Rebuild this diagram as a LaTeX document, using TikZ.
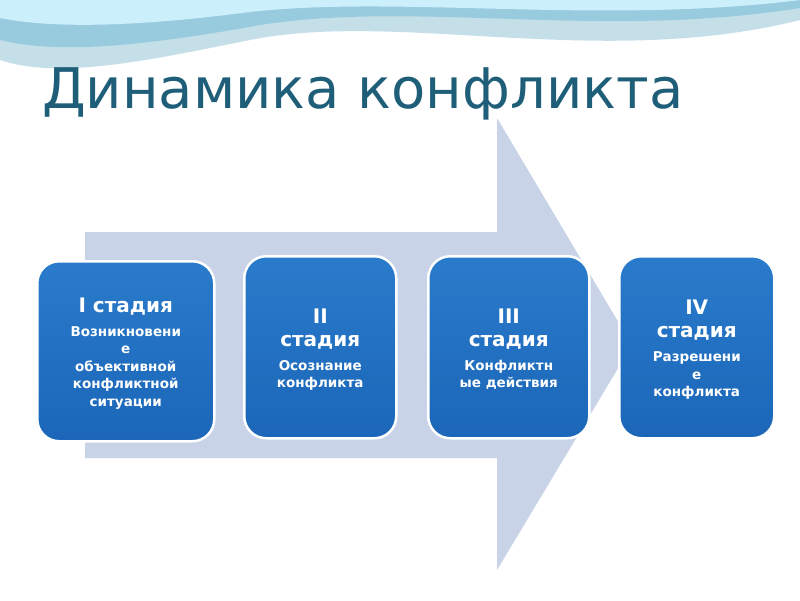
\documentclass[tikz,border=0pt]{standalone}
\usepackage{fontspec}
\setmainfont{DejaVu Sans}
\newcommand{\stgbig}[1]{{\fontsize{20}{24}\selectfont\bfseries\rule{0pt}{20pt}#1}}
\newcommand{\stgsml}[1]{{\fontsize{13.5}{16}\selectfont\bfseries\rule{0pt}{14pt}#1}}
\begin{document}
\begin{tikzpicture}[x=1pt,y=-1pt,
  stage/.style={draw=white,line width=2.5pt,rounded corners=22pt,
    top color=bluetop,bottom color=bluebox,anchor=north west},
  lbl/.style={text=white,align=center,inner sep=0}]
\definecolor{bluebox}{HTML}{1B66B8}
\definecolor{bluetop}{HTML}{2A7BCB}
\definecolor{titlec}{HTML}{1F5E78}
\definecolor{arrowc}{HTML}{C8D3E8}
\useasboundingbox (0,0) rectangle (800,600);
\fill[white] (0,0) rectangle (800,600);
% waves
\fill[cyan!30!teal!25] (0,0) -- (800,0) -- (800,20) .. controls (600,70) and (400,10) .. (250,40) .. controls (150,60) and (60,80) .. (0,60) -- cycle;
\fill[cyan!45!teal!45] (0,0) -- (800,0) -- (800,8) .. controls (600,40) and (420,0) .. (260,25) .. controls (150,45) and (60,55) .. (0,40) -- cycle;
\fill[cyan!20!white] (0,0) -- (800,0) .. controls (600,25) and (400,-5) .. (250,12) .. controls (150,25) and (60,30) .. (0,18) -- cycle;
\node[text=titlec,anchor=base west,font=\fontsize{56}{64}\selectfont,inner sep=0] (title) at (42,108) {Динамика конфликта};
% arrow
\fill[arrowc] (85,232) -- (497,232) -- (497,118) -- (632,345) -- (497,570) -- (497,458) -- (85,458) -- cycle;
\node[stage,minimum width=177pt,minimum height=180pt] (s1) at (36,260) {};
\node[lbl] at (s1.center) {\begin{tabular}{@{}c@{}}\stgbig{I стадия}\\[6pt]
\stgsml{Возникновени}\\\stgsml{е}\\\stgsml{объективной}\\\stgsml{конфликтной}\\\stgsml{ситуации}\end{tabular}};
\node[stage,minimum width=152pt,minimum height=182pt] (s2) at (243,255) {};
\node[lbl] at (s2.center) {\begin{tabular}{@{}c@{}}\stgbig{II}\\\stgbig{стадия}\\[6pt]
\stgsml{Осознание}\\\stgsml{конфликта}\end{tabular}};
\node[stage,minimum width=161pt,minimum height=182pt] (s3) at (427,255) {};
\node[lbl] at (s3.center) {\begin{tabular}{@{}c@{}}\stgbig{III}\\\stgbig{стадия}\\[6pt]
\stgsml{Конфликтн}\\\stgsml{ые действия}\end{tabular}};
\node[stage,minimum width=155pt,minimum height=182pt] (s4) at (618,255) {};
\node[lbl] at (s4.center) {\begin{tabular}{@{}c@{}}\stgbig{IV}\\\stgbig{стадия}\\[6pt]
\stgsml{Разрешени}\\\stgsml{е}\\\stgsml{конфликта}\end{tabular}};
\end{tikzpicture}
\end{document}
